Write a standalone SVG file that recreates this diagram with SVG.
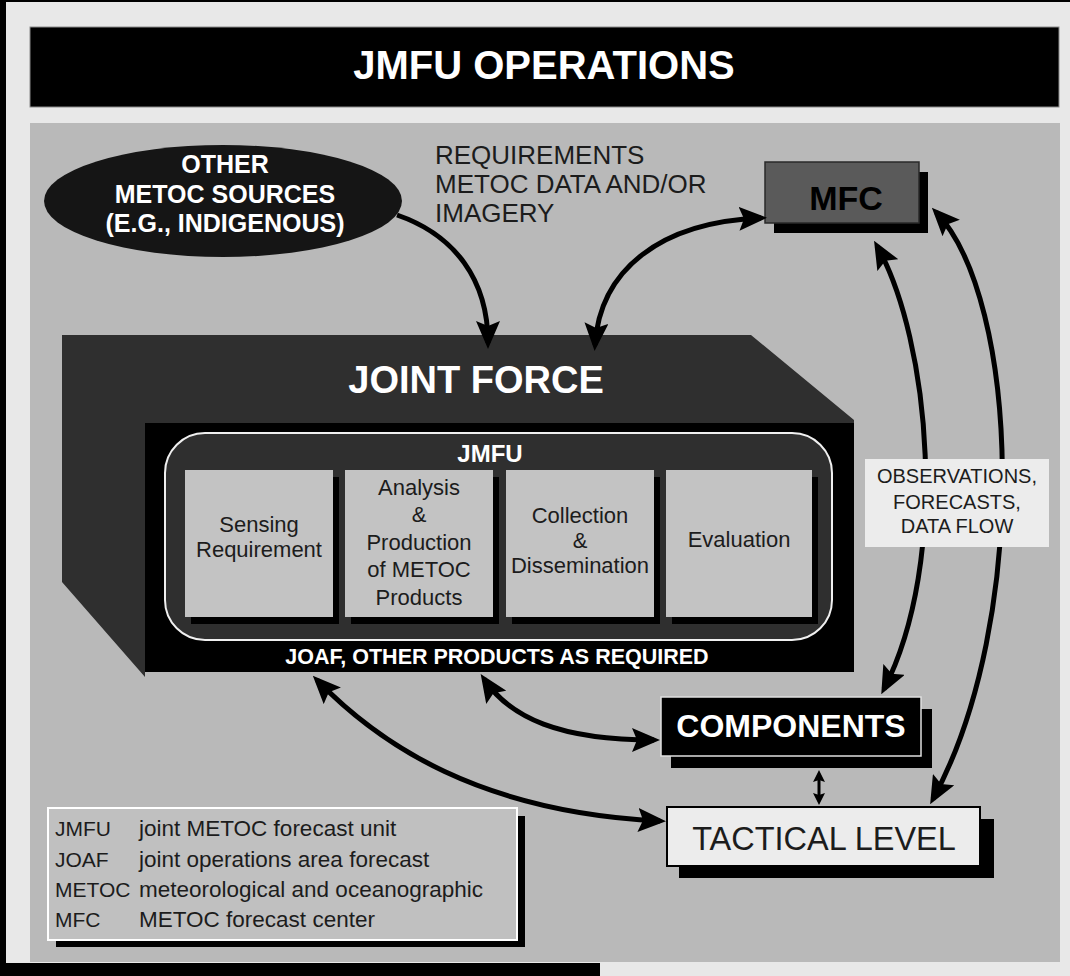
<svg xmlns="http://www.w3.org/2000/svg" width="1070" height="976" viewBox="0 0 1070 976">
<defs>
<style>
text{font-family:"Liberation Sans",Arial,Helvetica,sans-serif}
.b{font-weight:bold}
.w{fill:#ffffff}
.d{fill:#1c1c1c}
.c{stroke:#000;stroke-width:5;fill:none}
.sh{fill:#000}
.pb{fill:#c3c3c3}
</style>
<marker id="ah" viewBox="0 0 28 24" refX="22" refY="12" markerWidth="28" markerHeight="24" markerUnits="userSpaceOnUse" orient="auto-start-reverse">
<path d="M0,0 L28,12 L0,24 L5,12 z" fill="#000"/>
</marker>
<marker id="sm" viewBox="0 0 12 12" refX="8" refY="6" markerWidth="12" markerHeight="12" markerUnits="userSpaceOnUse" orient="auto-start-reverse">
<path d="M0,0 L12,6 L0,12 L2,6 z" fill="#000"/>
</marker>
</defs>
<rect x="0" y="0" width="1070" height="976" fill="#e8e8e8"/>
<rect x="0" y="0" width="6" height="976" fill="#000"/>
<rect x="0" y="0" width="1070" height="2" fill="#000"/>
<rect x="0" y="963" width="600" height="13" fill="#000"/>
<g id="title">
<rect x="30" y="27" width="1029" height="80" fill="#000" stroke="#8a8a8a" stroke-width="1"/>
<text x="544" y="79" class="b w" font-size="40" text-anchor="middle">JMFU OPERATIONS</text>
</g>
<rect x="30" y="123" width="1030" height="839" fill="#b9b9b9"/>
<g id="other-sources">
<ellipse cx="223" cy="201" rx="179" ry="56" fill="#151515"/>
<text class="b w" font-size="25" text-anchor="middle"><tspan x="225" y="173">OTHER</tspan><tspan x="225" y="203">METOC SOURCES</tspan><tspan x="225" y="232">(E.G., INDIGENOUS)</tspan></text>
</g>
<g id="requirements-label">
<text class="d" font-size="26"><tspan x="435" y="164">REQUIREMENTS</tspan><tspan x="435" y="193">METOC DATA AND/OR</tspan><tspan x="435" y="222">IMAGERY</tspan></text>
</g>
<g id="mfc">
<rect x="774" y="172" width="154" height="61" class="sh"/>
<rect x="765" y="162" width="154" height="61" fill="#5a5a5a" stroke="#2a2a2a" stroke-width="1.5"/>
<text x="846" y="210" class="b" font-size="34" text-anchor="middle" fill="#000">MFC</text>
</g>
<g id="joint-force">
<polygon points="62,335 751,335 854,420 854,423 145,423 145,677 62,582" fill="#2f2f2f"/>
<rect x="145" y="423" width="709" height="249" fill="#000"/>
<text x="476" y="393" class="b w" font-size="38" text-anchor="middle">JOINT FORCE</text>
<text x="497" y="664" class="b w" font-size="21.5" text-anchor="middle">JOAF, OTHER PRODUCTS AS REQUIRED</text>
</g>
<g id="jmfu">
<rect x="165" y="433" width="667" height="207" rx="40" ry="40" fill="#2f2f2f" stroke="#f0f0f0" stroke-width="2"/>
<text x="490" y="462" class="b w" font-size="24" text-anchor="middle">JMFU</text>
</g>
<g id="sensing">
<rect x="191" y="477" width="148" height="147" class="sh"/>
<rect x="185" y="470" width="148" height="147" class="pb"/>
<text class="d" font-size="22" text-anchor="middle"><tspan x="259" y="532">Sensing</tspan><tspan x="259" y="557">Requirement</tspan></text>
</g>
<g id="analysis">
<rect x="351" y="477" width="148" height="147" class="sh"/>
<rect x="345" y="470" width="148" height="147" class="pb"/>
<text class="d" font-size="22" text-anchor="middle"><tspan x="419" y="495">Analysis</tspan><tspan x="419" y="522">&amp;</tspan><tspan x="419" y="550">Production</tspan><tspan x="419" y="577">of METOC</tspan><tspan x="419" y="605">Products</tspan></text>
</g>
<g id="collection">
<rect x="512" y="477" width="148" height="147" class="sh"/>
<rect x="506" y="470" width="148" height="147" class="pb"/>
<text class="d" font-size="22" text-anchor="middle"><tspan x="580" y="523">Collection</tspan><tspan x="580" y="548">&amp;</tspan><tspan x="580" y="573">Dissemination</tspan></text>
</g>
<g id="evaluation">
<rect x="672" y="477" width="146" height="147" class="sh"/>
<rect x="666" y="470" width="146" height="147" class="pb"/>
<text x="739" y="547" class="d" font-size="22" text-anchor="middle">Evaluation</text>
</g>
<g id="connectors">
<path class="c" d="M397,215 C455,235 488,280 488,343" marker-end="url(#ah)"/>
<path class="c" d="M595,345 C600,270 660,222 761,218" marker-start="url(#ah)" marker-end="url(#ah)"/>
<path class="c" d="M936,212 C1020,300 1030,620 933,799" marker-start="url(#ah)" marker-end="url(#ah)"/>
<path class="c" d="M877,246 C930,340 950,560 884,689" marker-start="url(#ah)" marker-end="url(#ah)"/>
<path class="c" d="M484,679 C510,718 560,740 654,740" marker-start="url(#ah)" marker-end="url(#ah)"/>
<path class="c" d="M317,680 C380,745 480,812 660,821" marker-start="url(#ah)" marker-end="url(#ah)"/>
<path d="M819,774 L819,801" stroke="#000" stroke-width="3" fill="none" marker-start="url(#sm)" marker-end="url(#sm)"/>
</g>
<g id="obs-label">
<rect x="865" y="459" width="184" height="88" fill="#ececec"/>
<text class="d" font-size="20" text-anchor="middle"><tspan x="957" y="483">OBSERVATIONS,</tspan><tspan x="957" y="509">FORECASTS,</tspan><tspan x="957" y="533">DATA FLOW</tspan></text>
</g>
<g id="components">
<rect x="671" y="709" width="261" height="59" class="sh"/>
<rect x="661" y="697" width="260" height="59" fill="#000" stroke="#e0e0e0" stroke-width="1.5"/>
<text x="791" y="737" class="b w" font-size="32" text-anchor="middle">COMPONENTS</text>
</g>
<g id="tactical">
<rect x="679" y="819" width="315" height="59" class="sh"/>
<rect x="667" y="807" width="313" height="59" fill="#ececec" stroke="#000" stroke-width="2"/>
<text x="824" y="850" class="d" font-size="32.5" text-anchor="middle">TACTICAL LEVEL</text>
</g>
<g id="legend">
<rect x="56" y="816" width="469" height="131" class="sh"/>
<rect x="48" y="808" width="469" height="132" fill="#c0c0c0" stroke="#ffffff" stroke-width="2"/>
<text class="d" font-size="21"><tspan x="55" y="836">JMFU</tspan><tspan x="55" y="867">JOAF</tspan><tspan x="55" y="897">METOC</tspan><tspan x="55" y="927">MFC</tspan></text>
<text class="d" font-size="22.5"><tspan x="139" y="836">joint METOC forecast unit</tspan><tspan x="139" y="867">joint operations area forecast</tspan><tspan x="139" y="897">meteorological and oceanographic</tspan><tspan x="139" y="927">METOC forecast center</tspan></text>
</g>
</svg>
